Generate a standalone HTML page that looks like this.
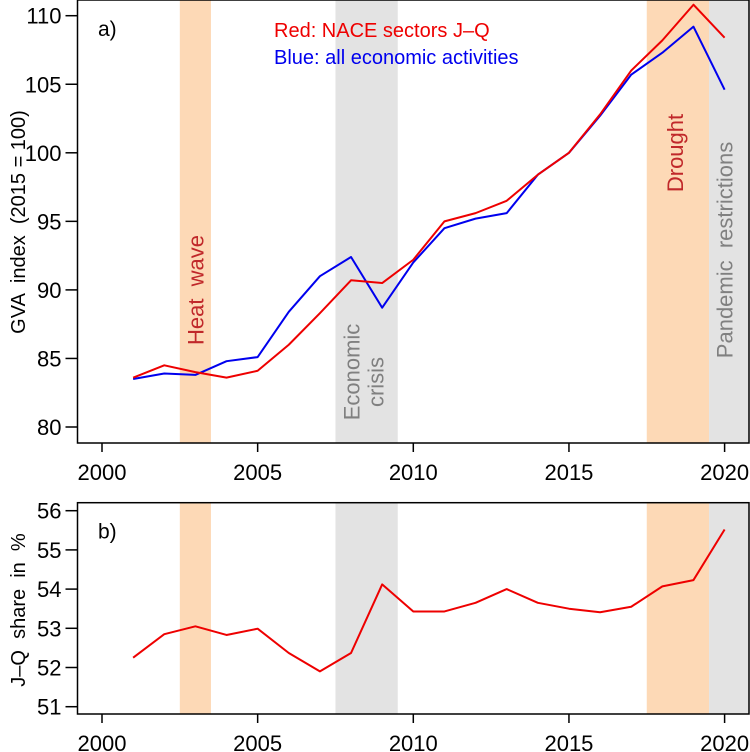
<!DOCTYPE html>
<html><head><meta charset="utf-8">
<style>
html,body{margin:0;padding:0;background:#fff;}
svg{display:block;font-family:"Liberation Sans",Arial,sans-serif;}
svg text{white-space:pre;}
</style></head>
<body>
<svg id="chart" width="750" height="752" viewBox="0 0 750 752" xmlns="http://www.w3.org/2000/svg" xml:space="preserve">
<g id="panelTop"></g>
<g id="panelBot"></g>
</svg>
<script>
const years = [2001,2002,2003,2004,2005,2006,2007,2008,2009,2010,2011,2012,2013,2014,2015,2016,2017,2018,2019,2020];
const redGVA = [83.6,84.5,84.0,83.6,84.1,86.0,88.3,90.7,90.5,92.2,95.0,95.6,96.5,98.4,100,102.8,106.0,108.2,110.8,108.4];
const blueGVA = [83.5,83.9,83.8,84.8,85.1,88.4,91.0,92.4,88.7,92.0,94.5,95.2,95.6,98.4,100,102.7,105.7,107.3,109.2,104.6];
const shareJQ = [52.25,52.85,53.05,52.83,52.99,52.37,51.9,52.37,54.12,53.43,53.43,53.65,54.0,53.65,53.5,53.41,53.55,54.07,54.23,55.52];
const xTicks = [2000,2005,2010,2015,2020];
const yTicksTop = [80,85,90,95,100,105,110];
const yTicksBot = [51,52,53,54,55,56];
const bandStarts = [2002.5,2007.5,2017.5,2019.5];
const bandEnds = [2003.5,2009.5,2019.5,2021];
const bandKinds = ['heat','crisis','drought','pandemic'];

const NS='http://www.w3.org/2000/svg';
const L=77.5,R=749;
function x(v){return 102+(v-2000)*31.13;}
function yTop(v){return 427-(v-80)*13.71;}
function yBot(v){return 706.7-(v-51)*39.2;}
function mk(tag,attrs,parent){const e=document.createElementNS(NS,tag);for(const k in attrs)e.setAttribute(k,attrs[k]);parent.appendChild(e);return e;}

function panel(g,T,B,yf,yTicks,labelText,axisTitle,titleY){
  bandStarts.forEach((s,i)=>{
    const r=mk('rect',{x:x(s),y:T,width:Math.min(x(bandEnds[i]),R)-x(s),height:B-T,fill:(bandKinds[i]==='heat'||bandKinds[i]==='drought')?'#fdd9b6':'#e3e3e3'},g);
    
    
  });
  const frame=mk('rect',{x:L,y:T,width:R-L,height:B-T,fill:'none',stroke:'#000','stroke-width':1.5},g);
  
  
  xTicks.forEach(t=>{
    mk('line',{x1:x(t),x2:x(t),y1:B,y2:B+9,stroke:'#000','stroke-width':1.5},g);
    const tx=mk('text',{x:x(t),y:B+37,'font-size':22,'text-anchor':'middle'},g);
    tx.textContent=t;
    
    
  });
  yTicks.forEach(t=>{
    mk('line',{x1:L-12,x2:L,y1:yf(t),y2:yf(t),stroke:'#000','stroke-width':1.5},g);
    const tx=mk('text',{x:L-16,y:yf(t)+8,'font-size':22,'text-anchor':'end'},g);
    tx.textContent=t;
    
    
  });
  const lab=mk('text',{x:98,y:T+36,'font-size':21},g);
  lab.textContent=labelText;
  
  
  const at=mk('text',{x:0,y:0,'font-size':20,'text-anchor':'middle',transform:`translate(25,${titleY}) rotate(-90)`},g);
  at.textContent=axisTitle;
  
  
}
function line(g,vals,yf,color,name){
  const p=mk('polyline',{points:vals.map((v,i)=>x(years[i])+','+yf(v)).join(' '),fill:'none',stroke:color,'stroke-width':2,'stroke-linejoin':'round'},g);
  
  
}
function rtext(g,t,cx,cy,color,name){
  const e=mk('text',{x:0,y:0,'font-size':22,'text-anchor':'middle',fill:color,transform:`translate(${cx},${cy}) rotate(-90)`},g);
  e.textContent=t;
  
  
}
const gTop=document.getElementById('panelTop'), gBot=document.getElementById('panelBot');
panel(gTop,0,443,yTop,yTicksTop,'a)','GVA  index  (2015 = 100)',222);
rtext(gTop,'Heat  wave',x(2003)+8,290,'#c0282a','heat-wave-label');
rtext(gTop,'Economic',x(2008.5)-7,372,'#808080','economic-crisis-label');
rtext(gTop,'crisis',x(2008.5)+17,382,'#808080','economic-crisis-label-2');
rtext(gTop,'Drought',x(2018.4)+8,153,'#c0282a','drought-label');
rtext(gTop,'Pandemic  restrictions',x(2020)+8,250,'#808080','pandemic-label');
line(gTop,blueGVA,yTop,'#0000ee','series-all-activities');
line(gTop,redGVA,yTop,'#ee0000','series-nace-jq');
const l1=mk('text',{x:274,y:37,'font-size':20,fill:'#ee0000'},gTop);
l1.textContent='Red: NACE sectors J\u2013Q';


const l2=mk('text',{x:274,y:64,'font-size':20,fill:'#0000ee'},gTop);
l2.textContent='Blue: all economic activities';



panel(gBot,502.7,714,yBot,yTicksBot,'b)','J\u2013Q  share  in  %',610);
line(gBot,shareJQ,yBot,'#ee0000','series-jq-share');
</script>
</body></html>
